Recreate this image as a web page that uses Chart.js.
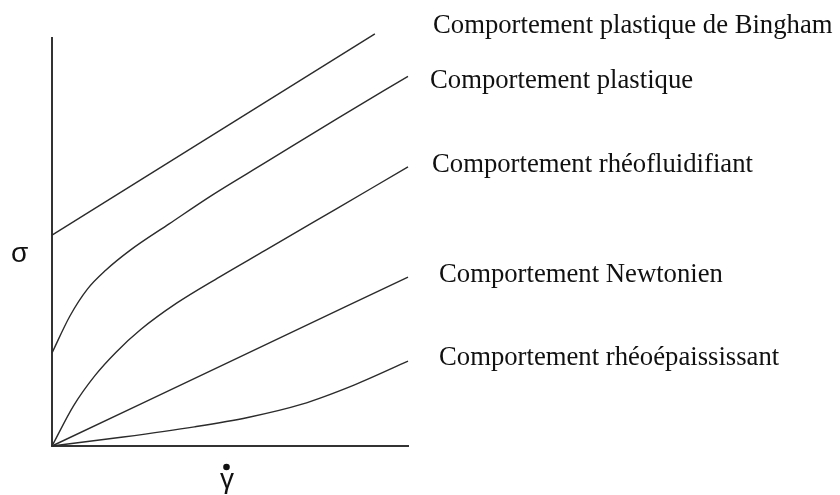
<!DOCTYPE html>
<html>
<head>
<meta charset="utf-8">
<script src="https://cdn.jsdelivr.net/npm/chart.js@4"></script>
<style>
  html, body { margin: 0; padding: 0; background: #fff; }
  #wrap { width: 840px; height: 495px; }
</style>
</head>
<body>
<div id="wrap"><canvas id="rheoChart" width="840" height="495"></canvas></div>
<script>
// shear rate (x) / shear stress (y), arbitrary units 0..10
const binghamX = [0, 9.07];
const binghamY = [5.17, 10.10];

const plasticX = [0, 0.5, 1.0, 1.5, 2.2, 3.3, 4.5, 6.0, 8.0, 10];
const plasticY = [2.28, 3.18, 3.85, 4.3, 4.8, 5.45, 6.15, 6.95, 8.02, 9.06];

const thinningX = [0, 0.6, 1.2, 1.8, 2.5, 3.5, 4.7, 6.0, 8.0, 10];
const thinningY = [0, 0.98, 1.72, 2.3, 2.86, 3.5, 4.14, 4.8, 5.82, 6.84];

const newtonX = [0, 5, 10];
const newtonY = [0, 2.07, 4.14];

const thickeningX = [0, 2, 4, 5.5, 7, 8.5, 10];
const thickeningY = [0, 0.22, 0.47, 0.7, 1.02, 1.5, 2.08];

const seriesLabels = [
    'Comportement plastique de Bingham',
    'Comportement plastique',
    'Comportement rhéofluidifiant',
    'Comportement Newtonien',
    'Comportement rhéoépaississant'
];

const LINE = '#2b2b2b';

function toPoints(xs, ys) {
    return xs.map((x, i) => ({ x: x, y: ys[i] }));
}

function curve(label, xs, ys) {
    return {
        label: label,
        data: toPoints(xs, ys),
        borderColor: LINE,
        borderWidth: 1.4,
        pointRadius: 0,
        fill: false,
        cubicInterpolationMode: 'monotone',
        clip: false
    };
}

// curve names + axis symbols
const labelPlugin = {
    id: 'curveLabels',
    afterDraw(chart) {
        const ctx = chart.ctx;
        ctx.save();
        ctx.fillStyle = '#111';
        ctx.textBaseline = 'alphabetic';
        ctx.textAlign = 'left';
        ctx.font = '26.7px "Liberation Serif", "Times New Roman", serif';
        const pos = [[433, 33], [430, 88], [432, 172], [439, 282], [439, 365]];
        seriesLabels.forEach((t, i) => ctx.fillText(t, pos[i][0], pos[i][1]));

        // sigma on the y axis
        ctx.font = '28px "Liberation Sans", Arial, sans-serif';
        ctx.fillText('σ', 11, 262);

        // gamma dot under the x axis
        ctx.font = '28px "Liberation Sans", Arial, sans-serif';
        ctx.textAlign = 'center';
        ctx.fillText('γ', 227, 488);
        ctx.beginPath();
        ctx.arc(226.5, 467, 3.3, 0, Math.PI * 2);
        ctx.fill();
        ctx.restore();
    }
};

new Chart(document.getElementById('rheoChart'), {
    type: 'line',
    data: {
        datasets: [
            curve(seriesLabels[0], binghamX, binghamY),
            curve(seriesLabels[1], plasticX, plasticY),
            curve(seriesLabels[2], thinningX, thinningY),
            curve(seriesLabels[3], newtonX, newtonY),
            curve(seriesLabels[4], thickeningX, thickeningY)
        ]
    },
    options: {
        responsive: false,
        devicePixelRatio: 1,
        animation: false,
        layout: { padding: { left: 52, right: 432, top: 38, bottom: 49 } },
        plugins: {
            legend: { display: false },
            tooltip: { enabled: false }
        },
        scales: {
            x: {
                type: 'linear',
                min: 0,
                max: 10,
                grid: { display: false, drawTicks: false },
                ticks: { display: false, padding: 0 },
                border: { display: true, color: '#333', width: 2 }
            },
            y: {
                type: 'linear',
                min: 0,
                max: 10,
                grid: { display: false, drawTicks: false },
                ticks: { display: false, padding: 0 },
                border: { display: true, color: '#333', width: 2 }
            }
        }
    },
    plugins: [labelPlugin]
});
</script>
</body>
</html>
